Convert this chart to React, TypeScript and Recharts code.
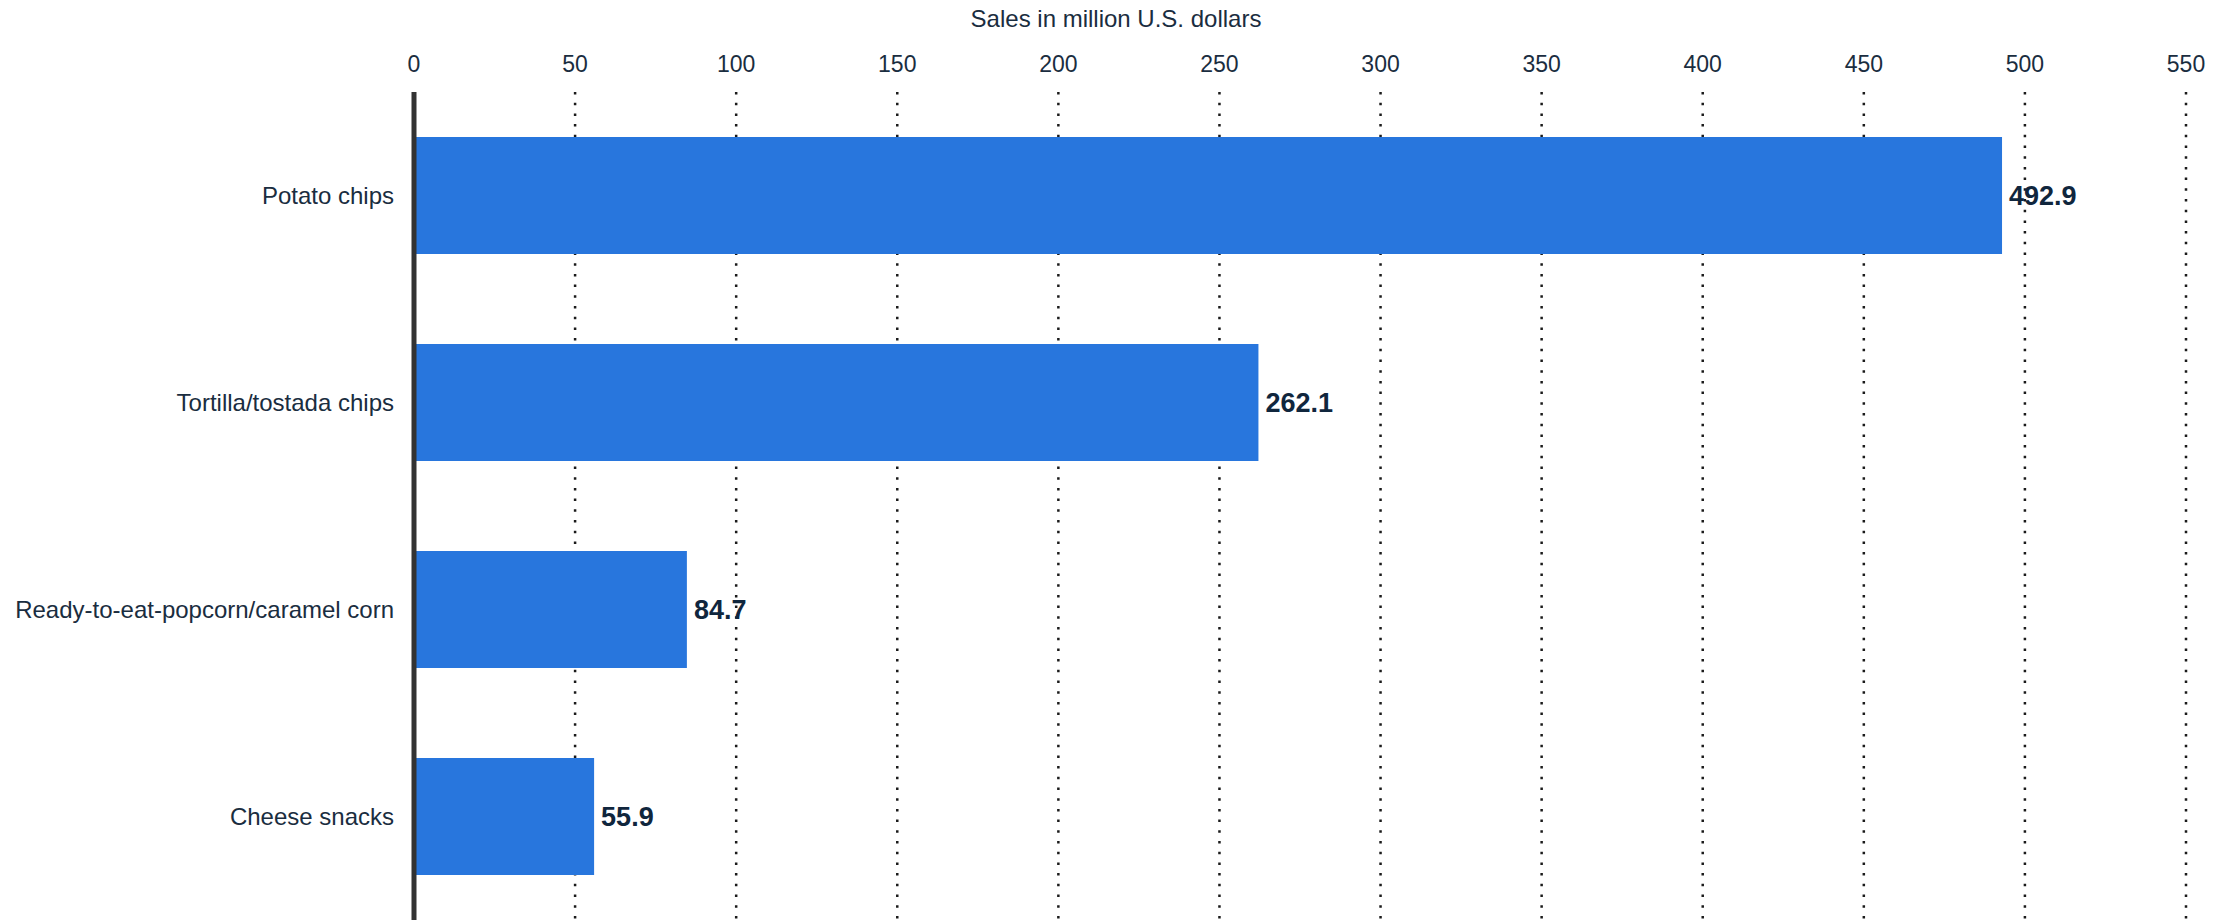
import React from "react";
import { BarChart, Bar, XAxis, YAxis, CartesianGrid, LabelList } from "recharts";

// Snack sales, million U.S. dollars
const CATEGORIES = [
  "Potato chips",
  "Tortilla/tostada chips",
  "Ready-to-eat-popcorn/caramel corn",
  "Cheese snacks",
];
const SALES = [492.9, 262.1, 84.7, 55.9];
const X_TICKS = [0, 50, 100, 150, 200, 250, 300, 350, 400, 450, 500, 550];
const AXIS_TITLE = "Sales in million U.S. dollars";

const FONT = '"Liberation Sans", Arial, sans-serif';
const TEXT = "#1a2d40";
const BLUE = "#2876dd";

const data = CATEGORIES.map((name, i) => ({ name, sales: SALES[i] }));

export default function App() {
  return (
    <div style={{ position: "absolute", left: 0, top: 0, width: 2232, height: 920, background: "#fff", fontFamily: FONT }}>
      {/* axis title is centred on the whole image, not the plot */}
      <div
        style={{
          position: "absolute",
          top: 7,
          left: 0,
          width: 2232,
          textAlign: "center",
          fontSize: 24,
          lineHeight: "24px",
          color: TEXT,
        }}
      >
        {AXIS_TITLE}
      </div>
      <BarChart
        width={2232}
        height={920}
        data={data}
        layout="vertical"
        margin={{ top: 32, right: 46, left: 0, bottom: 0 }}
      >
        <CartesianGrid
          horizontal={false}
          stroke="#1a1a1a"
          strokeWidth={2.5}
          strokeDasharray="2.5 8.2"
        />
        <XAxis
          type="number"
          orientation="top"
          domain={[0, 550]}
          ticks={X_TICKS}
          height={60}
          axisLine={false}
          tickLine={false}
          tickSize={0}
          tickMargin={20}
          tick={{ fontSize: 23, fill: TEXT, fontFamily: FONT }}
        />
        <YAxis
          type="category"
          dataKey="name"
          width={414}
          axisLine={{ stroke: "#333", strokeWidth: 5 }}
          tickLine={false}
          tickSize={0}
          tickMargin={20}
          tick={{ fontSize: 24, fill: TEXT, fontFamily: FONT }}
        />
        <Bar dataKey="sales" fill={BLUE} barSize={117} isAnimationActive={false}>
          <LabelList
            dataKey="sales"
            position="right"
            offset={7}
            style={{ fontSize: 27, fontWeight: 700, fill: "#10263d", fontFamily: FONT }}
          />
        </Bar>
      </BarChart>
    </div>
  );
}
